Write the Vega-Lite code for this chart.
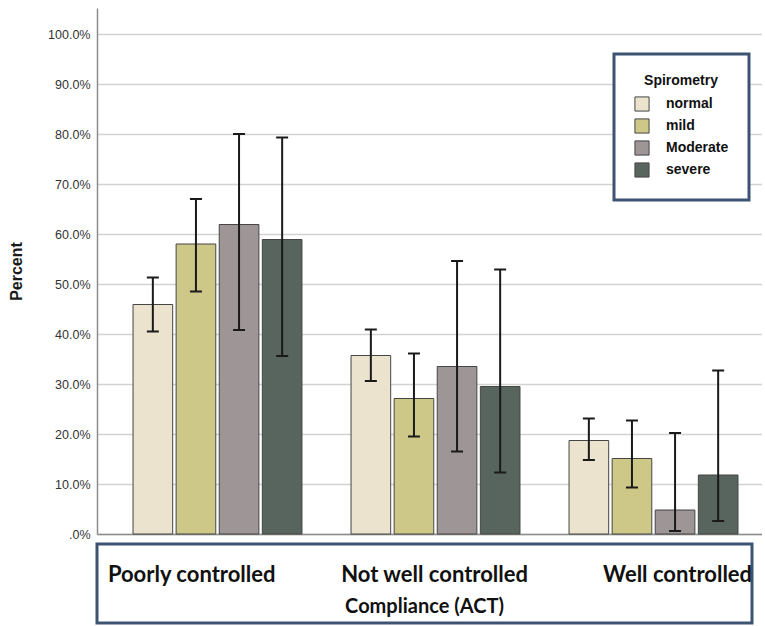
{
  "$schema": "https://vega.github.io/schema/vega-lite/v6.json",
  "padding": {"left": 8, "top": 8, "right": 0, "bottom": 0},
  "background": "white",
  "config": {
    "view": {"stroke": null},
    "font": "Liberation Sans",
    "concat": {"spacing": 1},
    "legend": {"strokeColor": "#3c5472", "strokeWidth": 3, "fillColor": "white", "padding": 20}
  },
  "datasets": {
    "bars": [
      {"group": "Poorly controlled", "severity": "normal", "pct": 45.9, "lo": 40.5, "hi": 51.3},
      {"group": "Poorly controlled", "severity": "mild", "pct": 58.0, "lo": 48.5, "hi": 67.0},
      {"group": "Poorly controlled", "severity": "Moderate", "pct": 61.9, "lo": 40.8, "hi": 80.0},
      {"group": "Poorly controlled", "severity": "severe", "pct": 58.9, "lo": 35.6, "hi": 79.3},
      {"group": "Not well controlled", "severity": "normal", "pct": 35.7, "lo": 30.6, "hi": 40.9},
      {"group": "Not well controlled", "severity": "mild", "pct": 27.1, "lo": 19.5, "hi": 36.1},
      {"group": "Not well controlled", "severity": "Moderate", "pct": 33.5, "lo": 16.5, "hi": 54.6},
      {"group": "Not well controlled", "severity": "severe", "pct": 29.5, "lo": 12.3, "hi": 52.9},
      {"group": "Well controlled", "severity": "normal", "pct": 18.7, "lo": 14.8, "hi": 23.1},
      {"group": "Well controlled", "severity": "mild", "pct": 15.1, "lo": 9.3, "hi": 22.7},
      {"group": "Well controlled", "severity": "Moderate", "pct": 4.8, "lo": 0.6, "hi": 20.2},
      {"group": "Well controlled", "severity": "severe", "pct": 11.8, "lo": 2.6, "hi": 32.7}
    ],
    "groups": [
      {"group": "Poorly controlled"},
      {"group": "Not well controlled"},
      {"group": "Well controlled"}
    ],
    "xtitle": [{"t": "Compliance (ACT)"}]
  },
  "vconcat": [
    {
      "width": 665,
      "height": 526,
      "data": {"name": "bars"},
      "encoding": {
        "x": {
          "field": "group",
          "type": "nominal",
          "sort": ["Poorly controlled", "Not well controlled", "Well controlled"],
          "scale": {"paddingInner": 0.225, "paddingOuter": 0.1377, "align": 0.6},
          "axis": {"title": null, "labels": false, "ticks": false, "grid": false, "domain": true, "domainColor": "#8c8c8c", "domainWidth": 1.5}
        },
        "xOffset": {
          "field": "severity",
          "type": "nominal",
          "sort": ["normal", "mild", "Moderate", "severe"],
          "scale": {"paddingInner": 0.08, "paddingOuter": 0}
        }
      },
      "layer": [
        {
          "mark": {"type": "bar", "stroke": "#454545", "strokeWidth": 1},
          "encoding": {
            "y": {
              "field": "pct",
              "type": "quantitative",
              "scale": {"domain": [0, 105.2], "nice": false},
              "axis": {
                "title": "Percent",
                "titleFontSize": 16,
                "titleFontWeight": "bold",
                "titleColor": "#1a1a1a",
                "titlePadding": 23,
                "labelFontSize": 12.5,
                "labelColor": "#333333",
                "labelPadding": 7,
                "ticks": false,
                "tickSize": 0,
                "values": [0, 10, 20, 30, 40, 50, 60, 70, 80, 90, 100],
                "labelExpr": "datum.value == 0 ? '.0%' : format(datum.value, '.1f') + '%'",
                "gridColor": "#d2d2d2",
                "gridWidth": 1.5,
                "domainColor": "#8c8c8c",
                "domainWidth": 1.5
              }
            },
            "color": {
              "field": "severity",
              "type": "nominal",
              "sort": ["normal", "mild", "Moderate", "severe"],
              "scale": {"domain": ["normal", "mild", "Moderate", "severe"], "range": ["#ece3ce", "#cec888", "#9d9596", "#58645e"]},
              "legend": {
                "orient": "none",
                "legendX": 517,
                "legendY": 46,
                "title": "Spirometry",
                "titleFontSize": 14,
                "titleFontWeight": "bold",
                "titleColor": "#111111",
                "titleAnchor": "middle",
                "titlePadding": 8,
                "labelFontSize": 14,
                "labelFontWeight": "bold",
                "labelColor": "#111111",
                "labelOffset": 16,
                "symbolType": "square",
                "symbolSize": 200,
                "symbolStrokeColor": "#454545",
                "symbolStrokeWidth": 1,
                "symbolOpacity": 1,
                "rowPadding": 2
              }
            }
          }
        },
        {
          "mark": {"type": "rule", "color": "#1a1a1a", "strokeWidth": 2},
          "encoding": {
            "y": {"field": "lo", "type": "quantitative"},
            "y2": {"field": "hi"}
          }
        },
        {
          "mark": {"type": "tick", "color": "#1a1a1a", "thickness": 2, "size": 12, "opacity": 1},
          "encoding": {"y": {"field": "lo", "type": "quantitative"}}
        },
        {
          "mark": {"type": "tick", "color": "#1a1a1a", "thickness": 2, "size": 12, "opacity": 1},
          "encoding": {"y": {"field": "hi", "type": "quantitative"}}
        }
      ]
    },
    {
      "width": 655,
      "height": 79,
      "view": {"stroke": "#3c5472", "strokeWidth": 3},
      "layer": [
        {
          "data": {"name": "groups"},
          "mark": {"type": "text", "font": "Lato", "fontSize": 22, "fontWeight": "bold", "color": "#111111", "dy": -9},
          "encoding": {
            "x": {
              "field": "group",
              "type": "nominal",
              "sort": ["Poorly controlled", "Not well controlled", "Well controlled"],
              "scale": {"type": "point", "padding": 0.348, "align": 0.56},
              "axis": null
            },
            "text": {"field": "group"}
          }
        },
        {
          "data": {"name": "xtitle"},
          "mark": {"type": "text", "font": "Lato", "fontSize": 20, "fontWeight": "bold", "color": "#111111", "dy": 23.5},
          "encoding": {"text": {"field": "t"}}
        }
      ]
    }
  ]
}
